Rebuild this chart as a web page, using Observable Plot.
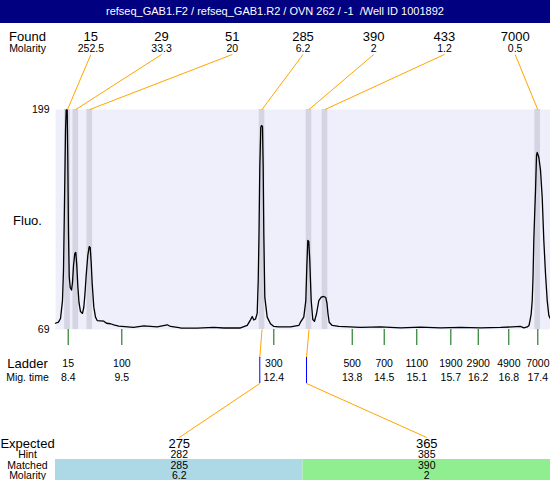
<!DOCTYPE html>
<html><head><meta charset="utf-8">
<script src="https://cdn.jsdelivr.net/npm/d3@7"></script>
<script src="https://cdn.jsdelivr.net/npm/@observablehq/plot@0.6"></script>
<style>
body{margin:0;background:#fff;font-family:"Liberation Sans",Arial,sans-serif;}
#title{width:550px;background:#000080;color:#fff;font-size:11px;text-align:center;white-space:pre;}
</style></head><body>
<div id="title"></div>
<div id="chart"></div>
<script>
// ---------- data ----------
const titleText = "refseq_GAB1.F2 / refseq_GAB1.R2 / OVN 262 / -1  /Well ID 1001892";
const traceTime = [8.157,8.214,8.253,8.291,8.310,8.330,8.349,8.362,8.381,8.393,
 8.406,8.420,8.439,8.464,8.483,8.502,8.527,8.546,8.565,8.584,
 8.607,8.636,8.674,8.699,8.722,8.745,8.776,8.803,8.822,8.841,
 8.860,8.891,8.924,8.956,9.083,9.134,9.211,9.274,9.370,9.652,
 9.786,9.849,10.106,10.298,10.361,10.553,10.873,11.191,11.382,11.702,
 11.831,11.894,11.927,11.957,11.990,12.022,12.042,12.057,12.072,12.091,
 12.105,12.124,12.137,12.149,12.168,12.214,12.277,12.341,12.431,12.661,
 12.820,12.852,12.915,12.954,12.973,12.992,13.011,13.030,13.057,13.088,
 13.120,13.159,13.203,13.249,13.299,13.337,13.360,13.379,13.402,13.460,
 13.586,14.002,14.385,14.769,15.152,15.535,15.918,16.302,16.685,17.068,
 17.132,17.197,17.231,17.250,17.273,17.293,17.308,17.323,17.342,17.356,
 17.375,17.388,17.419,17.452,17.484,17.515,17.547,17.580,17.611,17.643];
const traceFluo = [72.7,73.4,75.5,86.1,103.9,145.2,186.6,198.7,198.7,168.9,
 125.7,100.3,93.8,92.3,96.8,106.8,113.9,114.5,106.8,95.0,
 85.0,79.6,78.5,82.0,90.3,100.9,112.7,118.0,117.5,108.6,
 96.2,82.2,76.3,74.3,73.9,72.7,72.4,71.8,71.0,70.2,
 70.8,71.1,70.5,71.8,70.8,69.9,69.8,70.3,69.9,69.9,
 71.4,74.7,76.7,74.6,75.2,78.5,98.0,125.7,164.7,188.4,
 189.5,189.0,164.9,125.7,88.1,76.3,72.4,70.8,70.5,70.6,
 71.4,73.3,76.3,86.1,105.8,121.6,121.0,109.8,86.1,74.9,
 73.9,78.3,86.1,88.1,88.5,87.9,84.4,78.3,73.3,71.4,
 70.8,70.2,70.5,70.0,70.4,70.0,70.3,70.0,70.2,70.8,
 70.0,70.5,71.4,74.3,78.3,86.1,99.9,121.6,139.3,151.1,
 171.8,173.6,170.8,163.0,147.0,121.6,102.1,86.1,77.3,75.3];
const foundSizes = [15, 29, 51, 285, 390, 433, 7000];
const foundMolarity = ["252.5", "33.3", "20", "6.2", "2", "1.2", "0.5"];
const peakTimes = [8.387, 8.546, 8.814, 12.115, 13.015, 13.322, 17.398];
const ladderSizes = [15, 100, 300, 500, 700, 1100, 1900, 2900, 4900, 7000];
const ladderTimes = [8.400, 9.428, 12.341, 13.843, 14.456, 15.081, 15.733, 16.258, 16.844, 17.400];
const migTimeLabels = ["8.4", "9.5", "12.4", "13.8", "14.5", "15.1", "15.7", "16.2", "16.8", "17.4"];
const expectedSizes = [275, 365];
const expectedHint = [282, 385];
const expectedTimes = [12.072, 12.967];
const matchedSizes = [285, 390];
const matchedMolarity = ["6.2", "2"];
const matchedPeak = [3, 4];          // index into found peaks
const fluoRange = [69, 199];
const timeDomain = [8.157, 17.643];
const rowLabels = ["Found", "Molarity", "Fluo.", "Ladder", "Mig. time", "Expected", "Hint", "Matched", "Molarity"];

// ---------- layout / style ----------
const T = 23;                       // title bar height
const plotTop = 109, plotBottom = 329, plotLeft = 55;
const rowY = [36, 48, 220, 363, 377, 443, 454, 465, 475];
const rowSize = [13, 10.5, 13, 13, 10.5, 13, 10.5, 10.5, 10.5];
const cellFill = ["#add8e6", "#90ee90"];
const bandHalf = 0.054;
const FONT = "'Liberation Sans', Arial, sans-serif";

const yAt = px => fluoRange[0] + (plotBottom - px) * (fluoRange[1] - fluoRange[0]) / (plotBottom - plotTop);
const span = timeDomain[1] - timeDomain[0];
const colCenter = (i, n) => timeDomain[0] + (i + 0.5) * span / n;
const colEdge = (i, n) => timeDomain[0] + i * span / n;

const title = document.getElementById("title");
title.textContent = titleText;
title.style.height = T + "px";
title.style.lineHeight = T + "px";

const trace = traceTime.map((t, i) => ({t, v: traceFluo[i]}));
const found = foundSizes.map((s, i) => ({s, m: foundMolarity[i], col: colCenter(i, 7), peak: peakTimes[i]}));
const ladder = ladderSizes.map((s, i) => ({s, t: ladderTimes[i], lab: migTimeLabels[i]}));
const expected = expectedSizes.map((s, i) => ({
  s, hint: expectedHint[i], t: expectedTimes[i], matched: matchedSizes[i], mol: matchedMolarity[i],
  peak: peakTimes[matchedPeak[i]], col: colCenter(i, 2), x1: colEdge(i, 2), x2: colEdge(i + 1, 2), i
}));
const rows = rowLabels.map((l, i) => ({l, y: yAt(rowY[i]), size: rowSize[i]}));

const chart = Plot.plot({
  width: 550, height: 480 - T,
  marginTop: plotTop - T, marginBottom: 480 - plotBottom, marginLeft: plotLeft, marginRight: 0,
  x: {domain: timeDomain, axis: null},
  y: {domain: fluoRange, axis: null},
  color: {type: "identity"},
  style: {fontFamily: FONT, fontSize: "11px", color: "black", background: "white", overflow: "visible"},
  marks: [
    Plot.frame({fill: "#efeffc", stroke: "none"}),
    Plot.rect(peakTimes, {x1: d => d - bandHalf, x2: d => d + bandHalf, y1: fluoRange[0], y2: fluoRange[1], fill: "#d4d4e2"}),
    Plot.line(trace, {x: "t", y: "v", stroke: "black", strokeWidth: 1.3}),
    // y labels
    Plot.text(fluoRange, {y: d => d, frameAnchor: "left", dx: -6, textAnchor: "end", text: d => String(d), fontSize: 10.5}),
    // row labels on the left
    ...rows.map(r => Plot.text([r], {y: "y", frameAnchor: "left", dx: 27 - plotLeft, textAnchor: "middle", text: "l", fontSize: r.size})),
    // found row
    Plot.text(found, {x: "col", y: yAt(rowY[0]), text: d => String(d.s), fontSize: 13}),
    Plot.text(found, {x: "col", y: yAt(rowY[1]), text: "m", fontSize: 10.5}),
    Plot.link(found, {x1: "col", y1: yAt(54), x2: "peak", y2: fluoRange[1], stroke: "orange", strokeWidth: 1}),
    // ladder
    Plot.ruleX(ladder, {x: "t", y1: fluoRange[0], y2: yAt(345), stroke: "#006400", strokeWidth: 1}),
    Plot.text(ladder, {x: "t", y: yAt(rowY[3]), text: d => String(d.s), fontSize: 10.5}),
    Plot.text(ladder, {x: "t", y: yAt(rowY[4]), text: "lab", fontSize: 10.5}),
    // expected connectors
    Plot.link(expected, {x1: "peak", y1: fluoRange[0], x2: "t", y2: yAt(357), stroke: "orange", strokeWidth: 1}),
    Plot.ruleX(expected, {x: "t", y1: yAt(357), y2: yAt(383), stroke: "blue", strokeWidth: 1}),
    Plot.link(expected, {x1: "t", y1: yAt(383), x2: "col", y2: yAt(437), stroke: "orange", strokeWidth: 1}),
    // expected table
    Plot.rect(expected, {x1: "x1", x2: "x2", y1: yAt(459), y2: yAt(482), fill: d => cellFill[d.i]}),
    Plot.text(expected, {x: "col", y: yAt(rowY[5]), text: d => String(d.s), fontSize: 13}),
    Plot.text(expected, {x: "col", y: yAt(rowY[6]), text: d => String(d.hint), fontSize: 10.5}),
    Plot.text(expected, {x: "col", y: yAt(rowY[7]), text: d => String(d.matched), fontSize: 10.5}),
    Plot.text(expected, {x: "col", y: yAt(rowY[8]), text: "mol", fontSize: 10.5})
  ]
});
document.getElementById("chart").appendChild(chart);
</script>
</body></html>
